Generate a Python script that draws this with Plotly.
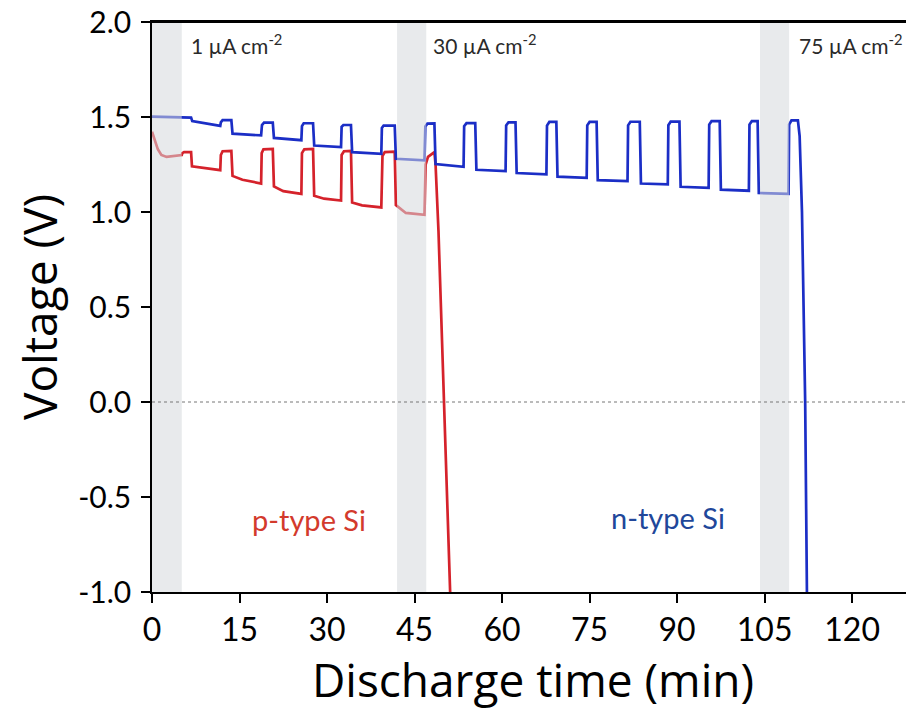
import plotly.graph_objects as go

# ---- data ----
blue_t = [0, 2.5, 5.1, 6.7, 6.9, 11.7,
          11.8, 12.1, 13.6, 13.8, 18.7,
          18.85, 19.2, 20.7, 20.9, 25.6,
          25.7, 26.0, 27.6, 27.8, 32.4,
          32.5, 32.8, 34.1, 34.3, 39.3,
          39.4, 39.7, 41.6, 41.8, 46.7,
          46.85, 47.2, 48.4, 48.6, 53.4,
          53.5, 53.9, 55.4, 55.6, 60.6,
          60.7, 61.1, 62.3, 62.5, 67.6,
          67.7, 68.1, 69.3, 69.5, 74.5,
          74.6, 75.0, 76.2, 76.4, 81.5,
          81.6, 82.0, 83.6, 83.8, 88.4,
          88.5, 88.9, 90.4, 90.6, 95.4,
          95.5, 95.9, 97.3, 97.5, 102.3,
          102.4, 102.8, 103.8, 104.0, 109.1,
          109.2, 109.6, 110.7, 111.0, 111.4, 111.95, 112.25]
blue_v = [1.502, 1.500, 1.495, 1.497, 1.478, 1.453,
          1.472, 1.484, 1.484, 1.412, 1.403,
          1.458, 1.470, 1.470, 1.390, 1.378,
          1.452, 1.467, 1.467, 1.350, 1.342,
          1.448, 1.458, 1.458, 1.315, 1.306,
          1.442, 1.455, 1.455, 1.280, 1.272,
          1.450, 1.465, 1.466, 1.252, 1.238,
          1.452, 1.468, 1.468, 1.222, 1.215,
          1.455, 1.472, 1.472, 1.205, 1.198,
          1.455, 1.474, 1.474, 1.186, 1.180,
          1.456, 1.474, 1.474, 1.168, 1.162,
          1.456, 1.475, 1.475, 1.150, 1.145,
          1.457, 1.476, 1.476, 1.133, 1.127,
          1.460, 1.478, 1.478, 1.118, 1.112,
          1.460, 1.478, 1.478, 1.100, 1.095,
          1.460, 1.482, 1.482, 1.40, 1.0, 0.0, -1.0]

red_t = [0, 0.5, 1.0, 1.6, 2.5, 5.1,
         5.2, 5.5, 6.7, 6.85, 11.7,
         11.8, 12.1, 13.6, 13.8, 15.5, 18.7,
         18.8, 19.1, 20.7, 20.9, 22.5, 25.6,
         25.7, 26.1, 27.6, 27.8, 29.5, 32.4,
         32.5, 32.9, 34.1, 34.3, 36.0, 39.3,
         39.5, 39.9, 41.6, 41.8, 43.5, 46.7,
         46.9, 47.3, 48.4, 48.6, 49.1, 50.1, 51.1]
red_v = [1.423, 1.37, 1.33, 1.30, 1.29, 1.30,
         1.31, 1.315, 1.315, 1.240, 1.220,
         1.300, 1.320, 1.322, 1.190, 1.170, 1.150,
         1.310, 1.330, 1.332, 1.135, 1.110, 1.095,
         1.310, 1.330, 1.332, 1.085, 1.070, 1.060,
         1.300, 1.320, 1.322, 1.050, 1.035, 1.024,
         1.295, 1.315, 1.317, 1.037, 0.995, 0.985,
         1.250, 1.290, 1.315, 1.250, 0.900, 0.0, -1.0]

shade_x0 = [0.0, 42.0, 104.2]
shade_x1 = [5.1, 47.0, 109.2]
current_labels = ["1 µA cm<sup>-2</sup>", "30 µA cm<sup>-2</sup>", "75 µA cm<sup>-2</sup>"]
current_label_t = [6.4, 47.9, 110.5]

x_ticks = [0, 15, 30, 45, 60, 75, 90, 105, 120]
y_ticks = [-1.0, -0.5, 0.0, 0.5, 1.0, 1.5, 2.0]

BLUE = "#1b2ec6"
RED = "#d5222b"
FONT = "Lato"
TITLE_FONT = "Open Sans"

fig = go.Figure()
fig.add_trace(go.Scatter(x=red_t, y=red_v, mode="lines",
                         line=dict(color=RED, width=2.7), showlegend=False))
fig.add_trace(go.Scatter(x=blue_t, y=blue_v, mode="lines",
                         line=dict(color=BLUE, width=2.7), showlegend=False))

shapes = []
for a, b in zip(shade_x0, shade_x1):
    shapes.append(dict(type="rect", xref="x", yref="y", x0=a, x1=b, y0=-1.0, y1=2.0,
                       fillcolor="rgb(214,216,221)", opacity=0.55, line=dict(width=0),
                       layer="above"))
shapes.append(dict(type="line", xref="paper", yref="y", x0=0, x1=1, y0=0, y1=0,
                   line=dict(color="#777777", width=1, dash="dot"), layer="above"))
# top frame line
shapes.append(dict(type="line", xref="paper", yref="paper", x0=0, x1=1, y0=1, y1=1,
                   line=dict(color="black", width=1.8), layer="above"))

annotations = []
for lab, t in zip(current_labels, current_label_t):
    annotations.append(dict(x=t, y=1.885, xref="x", yref="y", text=lab, showarrow=False,
                            xanchor="left", yanchor="middle",
                            font=dict(family=FONT, size=21, color="#2a2a2a")))
annotations.append(dict(x=16.8, y=-0.62, xref="x", yref="y", text="p-type Si", showarrow=False,
                        xanchor="left", yanchor="middle",
                        font=dict(family=FONT, size=29, color="#d33a2c")))
annotations.append(dict(x=78.3, y=-0.61, xref="x", yref="y", text="n-type Si", showarrow=False,
                        xanchor="left", yanchor="middle",
                        font=dict(family=FONT, size=29, color="#21479a")))

fig.update_layout(
    width=906, height=713,
    margin=dict(l=144, r=0, t=14, b=129, autoexpand=False),
    paper_bgcolor="white", plot_bgcolor="white",
    shapes=shapes, annotations=annotations,
    font=dict(family=FONT, color="black"),
)
fig.update_xaxes(range=[0, 130.6], tickvals=x_ticks, ticktext=[str(v) for v in x_ticks],
                 automargin=False, ticklabeloverflow="allow",
                 showgrid=False, zeroline=False, showline=True, linecolor="black",
                 linewidth=1.6, mirror=True, ticks="outside", ticklen=9, tickwidth=1.5,
                 tickcolor="black", tickfont=dict(family="Liberation Sans Narrow, Lato", size=32),
                 title=dict(text="Discharge time (min)", font=dict(family=TITLE_FONT, size=46),
                            standoff=14))
fig.update_yaxes(range=[-1.0, 2.0], tickvals=y_ticks, ticktext=[f"{v:.1f}" for v in y_ticks],
                 automargin=False, ticklabeloverflow="allow",
                 showgrid=False, zeroline=False, showline=True, linecolor="black",
                 linewidth=1.6, ticks="outside", ticklen=9, tickwidth=1.5,
                 tickcolor="black", tickfont=dict(family=FONT, size=30), ticklabelstandoff=4,
                 title=dict(text="Voltage (V)", font=dict(family=TITLE_FONT, size=46), standoff=8))

fig.write_html("out.html", config=dict(displayModeBar=False))
